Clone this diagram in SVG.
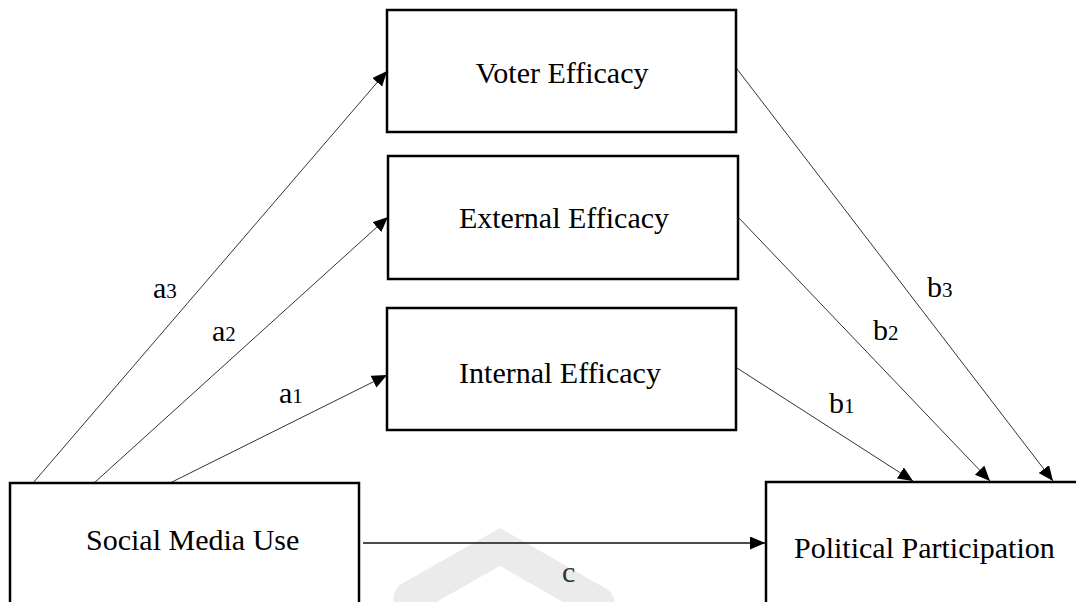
<svg xmlns="http://www.w3.org/2000/svg" width="1076" height="602" viewBox="0 0 1076 602">
<style>
.box{fill:#fff;stroke:#000;stroke-width:2.5}
.lbl{font-family:"Liberation Serif","Times New Roman",serif;font-size:30px;fill:#000}
.sub{font-size:21px}
.conn{stroke:#333;stroke-width:1;fill:none}
</style>
<defs>
<marker id="arr" markerUnits="userSpaceOnUse" markerWidth="16" markerHeight="14" refX="15" refY="6.5" orient="auto">
<path d="M0,0 L15,6.5 L0,13 z" fill="#000"/>
</marker>
</defs>
<rect width="1076" height="602" fill="#fff"/>
<path id="watermark" d="M410,598 L500,547 L598,603" fill="none" stroke="#ebebeb" stroke-width="33" stroke-linejoin="miter" stroke-linecap="round"/>
<g id="connectors">
<line class="conn" x1="33" y1="483" x2="387" y2="71" marker-end="url(#arr)"/>
<line class="conn" x1="94" y1="483" x2="388" y2="217" marker-end="url(#arr)"/>
<line class="conn" x1="170" y1="483" x2="387" y2="375" marker-end="url(#arr)"/>
<line class="conn" x1="737" y1="69" x2="1053" y2="481" marker-end="url(#arr)"/>
<line class="conn" x1="738" y1="217" x2="990" y2="481" marker-end="url(#arr)"/>
<line class="conn" x1="737" y1="368" x2="913" y2="481" marker-end="url(#arr)"/>
<line class="conn" x1="363" y1="543" x2="765" y2="543" stroke-width="1.5" style="stroke:#111;stroke-width:1.5" marker-end="url(#arr)"/>
<text class="lbl" x="153" y="298">a<tspan class="sub">3</tspan></text>
<text class="lbl" x="212" y="341">a<tspan class="sub">2</tspan></text>
<text class="lbl" x="279" y="403">a<tspan class="sub">1</tspan></text>
<text class="lbl" x="927" y="297">b<tspan class="sub">3</tspan></text>
<text class="lbl" x="873" y="340">b<tspan class="sub">2</tspan></text>
<text class="lbl" x="829" y="413">b<tspan class="sub">1</tspan></text>
<text class="lbl" x="562" y="582" style="fill:#333">c</text>
</g>
<g id="voter">
<rect class="box" x="387" y="10" width="349" height="122"/>
<text class="lbl" x="562" y="83" text-anchor="middle">Voter Efficacy</text>
</g>
<g id="external">
<rect class="box" x="388" y="156" width="350" height="123"/>
<text class="lbl" x="564" y="228" text-anchor="middle">External Efficacy</text>
</g>
<g id="internal">
<rect class="box" x="387" y="308" width="349" height="122"/>
<text class="lbl" x="560" y="383" text-anchor="middle">Internal Efficacy</text>
</g>
<g id="social">
<rect class="box" x="10" y="483" width="349" height="200" fill="none" style="fill:none"/>
<text class="lbl" x="86" y="550">Social Media Use</text>
</g>
<g id="participation">
<rect class="box" x="766" y="482" width="400" height="200" style="fill:none"/>
<text class="lbl" x="794" y="558">Political Participation</text>
</g>
</svg>
